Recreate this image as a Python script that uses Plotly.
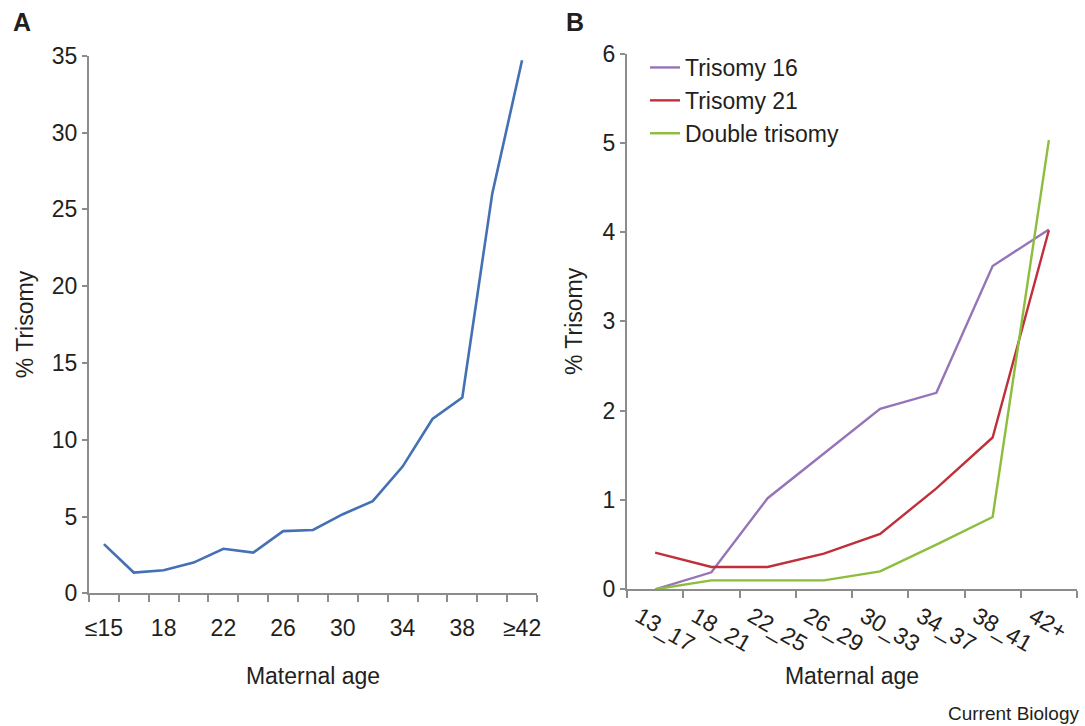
import plotly.graph_objects as go

# Panel A data
ages_a = ["≤15", "16", "18", "20", "22", "24", "26", "28", "30", "32", "34", "36", "38", "40", "≥42"]
trisomy_a = [3.2, 1.35, 1.5, 2.0, 2.9, 2.65, 4.05, 4.12, 5.15, 6.0, 8.25, 11.35, 12.75, 26.0, 34.7]
labels_a = ["≤15", "", "18", "", "22", "", "26", "", "30", "", "34", "", "38", "", "≥42"]

# Panel B data
ages_b = ["13_17", "18_21", "22_25", "26_29", "30_33", "34_37", "38_41", "42+"]
tri16 = [0.0, 0.19, 1.02, 1.52, 2.02, 2.2, 3.62, 4.03]
tri21 = [0.41, 0.25, 0.25, 0.4, 0.62, 1.13, 1.7, 4.02]
double_tri = [0.0, 0.1, 0.1, 0.1, 0.2, 0.5, 0.81, 5.03]

W, H = 1085, 726
FONT = "Arial, Liberation Sans, sans-serif"
TXT = "#231f20"
AX = "#8c8c8c"
FS = 23

fig = go.Figure()
fig.add_trace(go.Scatter(x=ages_a, y=trisomy_a, mode="lines", line=dict(color="#4470b4", width=2.6),
                         showlegend=False, xaxis="x", yaxis="y"))
fig.add_trace(go.Scatter(x=ages_b, y=tri16, mode="lines", name="Trisomy 16", legendgroup="a",
                         line=dict(color="#9674b8", width=2.4), xaxis="x2", yaxis="y2"))
fig.add_trace(go.Scatter(x=ages_b, y=tri21, mode="lines", name="Trisomy 21", legendgroup="b",
                         line=dict(color="#c0303a", width=2.4), xaxis="x2", yaxis="y2"))
fig.add_trace(go.Scatter(x=ages_b, y=double_tri, mode="lines", name="Double trisomy", legendgroup="c",
                         line=dict(color="#8cbd3c", width=2.4), xaxis="x2", yaxis="y2"))

def px(x0, x1):
    return [x0 / W, x1 / W]

def py(ytop, ybot):
    return [1 - ybot / H, 1 - ytop / H]

tfont = dict(size=FS, color=TXT, family=FONT)
common_x = dict(type="category", tickson="boundaries", showline=True, linecolor=AX, linewidth=2,
                ticks="outside", ticklen=7, tickwidth=2, tickcolor=AX, showgrid=False, zeroline=False,
                automargin=False, tickfont=tfont)
common_y = dict(showline=True, linecolor=AX, linewidth=2, ticks="outside", ticklen=5, tickwidth=2,
                tickcolor=AX, showgrid=False, zeroline=False, automargin=False, tickfont=tfont)

fig.update_layout(
    width=W, height=H, margin=dict(l=0, r=0, t=0, b=0),
    plot_bgcolor="white", paper_bgcolor="white",
    font=dict(family=FONT, color=TXT),
    xaxis=dict(common_x, domain=px(89, 537), anchor="y", range=[-0.5, 14.5], tickangle=0,
               tickmode="array", tickvals=ages_a, ticktext=labels_a, ticklabelstandoff=13,
               title=dict(text="Maternal age", standoff=28, font=tfont)),
    yaxis=dict(common_y, domain=py(55.7, 593.3), anchor="x", range=[0, 35], tickvals=[0, 5, 10, 15, 20, 25, 30, 35],
               title=dict(text="% Trisomy", standoff=12, font=tfont)),
    xaxis2=dict(common_x, domain=px(627, 1077), anchor="y2", range=[-0.5, 7.5], tickangle=30,
                tickmode="array", tickvals=ages_b, ticktext=ages_b, ticklabelshift=-16, ticklabelstandoff=3,
                title=dict(text="Maternal age", standoff=12, font=tfont)),
    yaxis2=dict(common_y, domain=py(53.5, 589.3), anchor="x2", range=[0, 6], tickvals=[0, 1, 2, 3, 4, 5, 6],
                title=dict(text="% Trisomy", standoff=14, font=tfont)),
    legend=dict(x=645 / W, y=1 - 46 / H, xanchor="left", yanchor="top", bgcolor="rgba(0,0,0,0)",
                font=tfont, traceorder="grouped", tracegroupgap=0),
    annotations=[
        dict(text="<b>A</b>", x=11 / W, y=1 - 22 / H, xref="paper", yref="paper", xanchor="left", yanchor="middle",
             showarrow=False, font=dict(size=25, color=TXT, family=FONT)),
        dict(text="<b>B</b>", x=564 / W, y=1 - 22 / H, xref="paper", yref="paper", xanchor="left", yanchor="middle",
             showarrow=False, font=dict(size=25, color=TXT, family=FONT)),
        dict(text="Current Biology", x=1081 / W, y=1 - 713 / H, xref="paper", yref="paper", xanchor="right",
             yanchor="middle", showarrow=False, font=dict(size=19, color=TXT, family=FONT)),
    ],
)

fig.write_html("out.html", config={"displayModeBar": False},
               post_script="document.body.style.margin='0px';document.documentElement.style.overflow='hidden';")
